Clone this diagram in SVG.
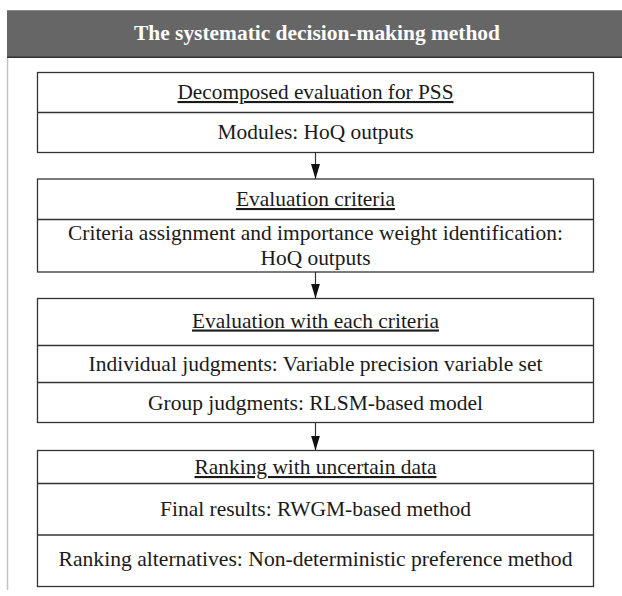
<svg xmlns="http://www.w3.org/2000/svg" width="622" height="596" viewBox="0 0 622 596">
<style>
.box{fill:#ffffff;stroke:#333333;stroke-width:1.3}
.div{stroke:#333333;stroke-width:1.3}
.t{font-family:'Liberation Serif','DejaVu Serif',serif;font-size:21px;fill:#1a1a1a;text-anchor:middle}
.u{text-decoration:underline}
.h{font-family:'Liberation Serif','DejaVu Serif',serif;font-size:21px;font-weight:bold;fill:#ffffff;text-anchor:middle}
.con{stroke:#333333;stroke-width:1.2;fill:none}
</style>
<defs>
<marker id="ah" viewBox="0 0 15 10" refX="15" refY="5" markerWidth="15" markerHeight="10" markerUnits="userSpaceOnUse" orient="auto">
<path d="M0,0.5 L15,5 L0,9.5 Z" fill="#111111"/>
</marker>
</defs>
<rect width="622" height="596" fill="#ffffff"/>
<g id="frame">
<line x1="7.5" y1="58" x2="7.5" y2="590" stroke="#c4c4c4" stroke-width="1.5"/>
<rect x="7" y="10" width="615" height="48" fill="#666666"/>
<line x1="7" y1="10.5" x2="622" y2="10.5" stroke="#8a8a8a" stroke-width="1"/>
<line x1="7" y1="57.3" x2="622" y2="57.3" stroke="#333333" stroke-width="1.6"/>
<text class="h" font-family="Liberation Serif, serif" x="317" y="40" textLength="366" lengthAdjust="spacingAndGlyphs">The systematic decision-making method</text>
</g>
<g id="node1">
<rect class="box" x="37.5" y="72.5" width="556" height="80"/>
<line class="div" x1="37.5" y1="112.5" x2="593.5" y2="112.5"/>
<text class="t u" font-family="Liberation Serif, serif" x="315.5" y="99" textLength="276" lengthAdjust="spacingAndGlyphs">Decomposed evaluation for PSS</text>
<text class="t" font-family="Liberation Serif, serif" x="315.5" y="138.5" textLength="196" lengthAdjust="spacingAndGlyphs">Modules: HoQ outputs</text>
</g>
<g id="node2">
<rect class="box" x="37.5" y="179" width="556" height="93"/>
<line class="div" x1="37.5" y1="219.5" x2="593.5" y2="219.5"/>
<text class="t u" font-family="Liberation Serif, serif" x="315.5" y="206" textLength="159" lengthAdjust="spacingAndGlyphs">Evaluation criteria</text>
<text class="t" font-family="Liberation Serif, serif" x="315.5" y="240" textLength="495" lengthAdjust="spacingAndGlyphs">Criteria assignment and importance weight identification:</text>
<text class="t" font-family="Liberation Serif, serif" x="315.5" y="264.5" textLength="110" lengthAdjust="spacingAndGlyphs">HoQ outputs</text>
</g>
<g id="node3">
<rect class="box" x="37.5" y="298.5" width="556" height="124"/>
<line class="div" x1="37.5" y1="345.5" x2="593.5" y2="345.5"/>
<line class="div" x1="37.5" y1="382.5" x2="593.5" y2="382.5"/>
<text class="t u" font-family="Liberation Serif, serif" x="315.5" y="327.5" textLength="247" lengthAdjust="spacingAndGlyphs">Evaluation with each criteria</text>
<text class="t" font-family="Liberation Serif, serif" x="315.5" y="370.5" textLength="454" lengthAdjust="spacingAndGlyphs">Individual judgments: Variable precision variable set</text>
<text class="t" font-family="Liberation Serif, serif" x="315.5" y="409.5" textLength="335" lengthAdjust="spacingAndGlyphs">Group judgments: RLSM-based model</text>
</g>
<g id="node4">
<rect class="box" x="37.5" y="450.5" width="556" height="136"/>
<line class="div" x1="37.5" y1="483.5" x2="593.5" y2="483.5"/>
<line class="div" x1="37.5" y1="535" x2="593.5" y2="535"/>
<text class="t u" font-family="Liberation Serif, serif" x="315.5" y="474" textLength="242" lengthAdjust="spacingAndGlyphs">Ranking with uncertain data</text>
<text class="t" font-family="Liberation Serif, serif" x="315.5" y="515.5" textLength="311" lengthAdjust="spacingAndGlyphs">Final results: RWGM-based method</text>
<text class="t" font-family="Liberation Serif, serif" x="315.5" y="566" textLength="514" lengthAdjust="spacingAndGlyphs">Ranking  alternatives: Non-deterministic preference method</text>
</g>
<g id="connectors">
<line class="con" x1="315.5" y1="152.5" x2="315.5" y2="179" marker-end="url(#ah)"/>
<line class="con" x1="315.5" y1="272" x2="315.5" y2="298.5" marker-end="url(#ah)"/>
<line class="con" x1="315.5" y1="422.5" x2="315.5" y2="450.5" marker-end="url(#ah)"/>
</g>
</svg>
